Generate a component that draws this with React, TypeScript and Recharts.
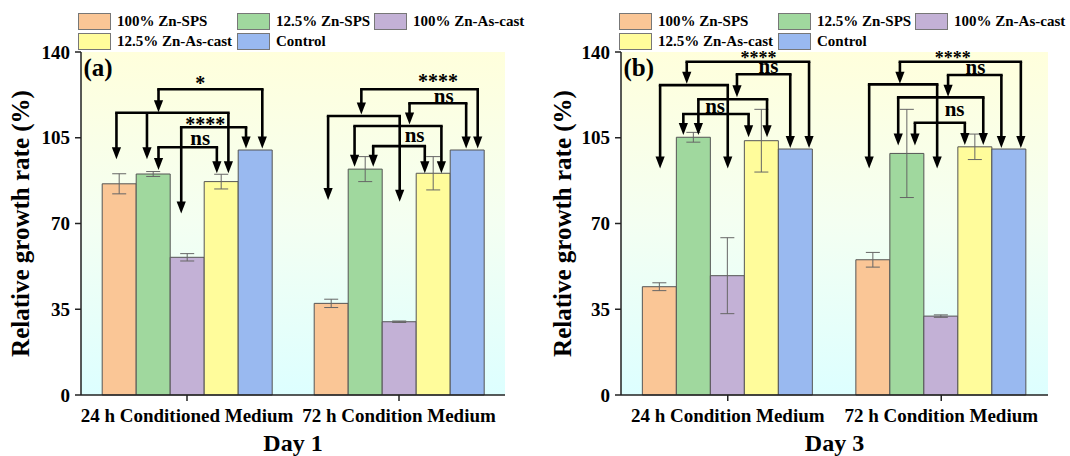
import React from "react";
import {
  BarChart,
  Bar,
  XAxis,
  YAxis,
  CartesianGrid,
  ErrorBar,
  Legend,
  ReferenceLine,
  ReferenceDot,
} from "recharts";

const FONT = '"Liberation Serif", "Times New Roman", serif';
const AX = "#222";

const seriesNames = ["100% Zn-SPS", "12.5% Zn-SPS", "100% Zn-As-cast", "12.5% Zn-As-cast", "Control"];
const seriesColors = ["#FAC696", "#A0D89E", "#C3B1D6", "#FFFC9B", "#99B9F0"];
const yTicks = [0, 35, 70, 105, 140];

// Day 1
const day1Categories = ["24 h Conditioned Medium", "72 h Condition Medium"];
const day1ZnSps100 = [86.2, 37.4];
const day1ZnSps125 = [90.2, 92.2];
const day1ZnCast100 = [56.2, 29.9];
const day1ZnCast125 = [87.1, 90.5];
const day1Control = [100, 100];
const day1ErrSps100 = [4.1, 1.7];
const day1ErrSps125 = [1.0, 5.1];
const day1ErrCast100 = [1.5, 0.3];
const day1ErrCast125 = [3.0, 6.8];

// Day 3
const day3Categories = ["24 h Condition Medium", "72 h Condition Medium"];
const day3ZnSps100 = [44.2, 55.2];
const day3ZnSps125 = [105.2, 98.6];
const day3ZnCast100 = [48.7, 32.2];
const day3ZnCast125 = [103.8, 101.3];
const day3Control = [100.4, 100.4];
const day3ErrSps100 = [1.6, 3.0];
const day3ErrSps125 = [2.0, 18.0];
const day3ErrCast100 = [15.5, 0.5];
const day3ErrCast125 = [12.8, 5.2];

// significance brackets: slot = position in bar widths from the group's left edge,
// level / tips / label centre in % units
type Bracket = {
  cat: number;
  level: number;
  ends: [number, number][];
  label?: string;
  labelAt?: [number, number];
};

const day1Brackets: Bracket[] = [
  { cat: 0, level: 124.8, ends: [[1.66, 115.4], [4.72, 100.6]], label: "*", labelAt: [2.89, 128.6] },
  { cat: 0, level: 115.2, ends: [[0.42, 96.2], [1.32, 96.2], [3.72, 90.5]] },
  { cat: 0, level: 109.3, ends: [[2.33, 74.1], [4.24, 100.6]], label: "****", labelAt: [3.04, 111.6] },
  { cat: 0, level: 101.1, ends: [[1.66, 91.8], [3.38, 90.5]], label: "ns", labelAt: [2.89, 104.1] },
  { cat: 1, level: 124.8, ends: [[1.39, 114.5], [4.82, 100.6]], label: "****", labelAt: [3.65, 129.1] },
  { cat: 1, level: 119.1, ends: [[2.81, 110.4], [4.48, 100.6]], label: "ns", labelAt: [3.82, 121.2] },
  { cat: 1, level: 113.9, ends: [[0.41, 79.6], [2.52, 78.9]] },
  { cat: 1, level: 109.8, ends: [[1.19, 93.2], [3.75, 90.5]] },
  { cat: 1, level: 101.6, ends: [[1.74, 93.2], [3.26, 90.5]], label: "ns", labelAt: [2.96, 105.4] },
];

const day3Brackets: Bracket[] = [
  { cat: 0, level: 136, ends: [[1.3, 127.0], [4.88, 100.8]], label: "****", labelAt: [3.4, 138.6] },
  { cat: 0, level: 126.5, ends: [[0.52, 92.5], [2.5, 92.5]] },
  { cat: 0, level: 130.9, ends: [[2.77, 121.5], [4.33, 100.8]], label: "ns", labelAt: [3.69, 133.3] },
  { cat: 0, level: 120.7, ends: [[1.64, 106.1], [3.65, 105.2]] },
  { cat: 0, level: 114.7, ends: [[1.2, 106.1], [3.11, 105.2]], label: "ns", labelAt: [2.13, 117.1] },
  { cat: 1, level: 136, ends: [[1.29, 127.0], [4.83, 100.8]], label: "****", labelAt: [2.84, 138.6] },
  { cat: 1, level: 126.8, ends: [[0.39, 92.5], [2.38, 92.5]] },
  { cat: 1, level: 130.6, ends: [[2.7, 121.7], [4.26, 100.8]], label: "ns", labelAt: [3.5, 133.0] },
  { cat: 1, level: 121.5, ends: [[1.24, 101.8], [3.73, 102.0]] },
  { cat: 1, level: 111.1, ends: [[1.73, 101.8], [3.19, 102.0]], label: "ns", labelAt: [2.89, 115.9] },
];

const slotX = (cat: number, p: number) => cat + 0.1 + 0.16 * p;

const hLine = (p: any) => (
  <line x1={p.x1} y1={p.y1} x2={p.x2} y2={p.y2} stroke="#000" strokeWidth={2.6} strokeLinecap="square" />
);

const arrow = (p: any) => {
  const top = Math.min(p.y1, p.y2);
  const tip = Math.max(p.y1, p.y2);
  const h = 12;
  const w = 4.6;
  const x = p.x1;
  return (
    <g>
      <line x1={x} y1={top} x2={x} y2={tip - h + 1} stroke="#000" strokeWidth={2.6} />
      <polygon points={`${x - w},${tip - h} ${x + w},${tip - h} ${x},${tip}`} fill="#000" />
    </g>
  );
};

function LegendBox() {
  const cols = [0, 159, 296];
  return (
    <div style={{ position: "relative", width: 470, height: 40, fontFamily: FONT, fontWeight: 700, fontSize: 15, color: "#000" }}>
      {seriesNames.map((n, i) => (
        <div
          key={n}
          style={{
            position: "absolute",
            left: cols[i % 3],
            top: 1 + Math.floor(i / 3) * 20,
            height: 17,
            display: "flex",
            alignItems: "center",
            whiteSpace: "nowrap",
          }}
        >
          <span
            style={{
              display: "inline-block",
              width: 31,
              height: 15,
              background: seriesColors[i],
              border: "1px solid #777",
              marginRight: 6,
            }}
          />
          <span>{n}</span>
        </div>
      ))}
    </div>
  );
}

interface PanelProps {
  gid: string;
  left: number;
  width: number;
  rightMargin: number;
  categories: string[];
  values: number[][];
  errors: number[][];
  brackets: Bracket[];
  tag: string;
  day: string;
  legendLeft: number;
  yLabelX: number;
  starSize: number;
}

function Panel(props: PanelProps) {
  const rows = props.categories.map((c, i) => {
    const r: any = { cat: c, pos: i + 0.5 };
    props.values.forEach((v, k) => {
      r[`s${k}`] = v[i];
    });
    props.errors.forEach((e, k) => {
      r[`e${k}`] = e[i];
    });
    return r;
  });

  const marks: React.ReactNode[] = [];
  props.brackets.forEach((b, bi) => {
    const xs = b.ends.map((e) => slotX(b.cat, e[0]));
    marks.push(
      <ReferenceLine
        key={`h${bi}`}
        xAxisId="n"
        segment={[
          { x: Math.min(...xs), y: b.level },
          { x: Math.max(...xs), y: b.level },
        ]}
        shape={hLine}
      />
    );
    b.ends.forEach((e, ei) => {
      marks.push(
        <ReferenceLine
          key={`a${bi}-${ei}`}
          xAxisId="n"
          segment={[
            { x: slotX(b.cat, e[0]), y: b.level },
            { x: slotX(b.cat, e[0]), y: e[1] },
          ]}
          shape={arrow}
        />
      );
    });
    if (b.label && b.labelAt) {
      const txt = b.label;
      const star = txt.includes("*");
      const fs = star ? props.starSize : 21;
      const off = star ? 0.48 * fs : 0.23 * fs;
      marks.push(
        <ReferenceDot
          key={`l${bi}`}
          xAxisId="n"
          x={slotX(b.cat, b.labelAt[0])}
          y={b.labelAt[1]}
          shape={(p: any) => (
            <text x={p.cx} y={p.cy + off} textAnchor="middle" fontFamily={FONT} fontWeight={700} fontSize={fs} fill="#000">
              {txt}
            </text>
          )}
        />
      );
    }
  });

  return (
    <div style={{ position: "absolute", left: props.left, top: 0 }}>
      <BarChart
        width={props.width}
        height={456}
        data={rows}
        margin={{ top: 12, right: props.rightMargin, left: 0, bottom: 0 }}
        barCategoryGap="10%"
        barGap={0}
      >
        <defs>
          <linearGradient id={props.gid} x1="0" y1="0" x2="0" y2="1">
            <stop offset="0%" stopColor="#FFFFDC" />
            <stop offset="50%" stopColor="#F4FFF2" />
            <stop offset="100%" stopColor="#DDFFFF" />
          </linearGradient>
        </defs>
        <CartesianGrid horizontal={false} vertical={false} fill={`url(#${props.gid})`} />
        <Legend verticalAlign="top" align="left" height={40} wrapperStyle={{ top: 12, left: props.legendLeft, width: 470, height: 40 }} content={() => <LegendBox />} />
        <XAxis
          dataKey="cat"
          interval={0}
          height={61}
          tickSize={6}
          tickMargin={8}
          axisLine={{ stroke: AX, strokeWidth: 1.5 }}
          tickLine={{ stroke: AX, strokeWidth: 1.5 }}
          tick={{ fontSize: 19, fontWeight: 700, fill: "#000", fontFamily: FONT }}
          label={{
            content: (p: any) => {
              const vb = p.viewBox || {};
              const cx = (vb.x ?? 81) + (vb.width ?? 425) / 2;
              const cy = (vb.y ?? 395) + 56;
              return (
                <text x={cx} y={cy} textAnchor="middle" fontFamily={FONT} fontWeight={700} fontSize={24} fill="#000">
                  {props.day}
                </text>
              );
            },
          }}
        />
        <XAxis xAxisId="n" dataKey="pos" type="number" domain={[0, 2]} allowDataOverflow hide />
        <XAxis
          xAxisId="top"
          dataKey="pos"
          type="number"
          orientation="top"
          domain={[0, 2]}
          allowDataOverflow
          height={0}
          tick={false}
          tickLine={false}
          axisLine={{ stroke: "#444", strokeWidth: 1.5 }}
        />
        <YAxis
          domain={[0, 140]}
          ticks={yTicks}
          width={81}
          tickSize={6}
          tickMargin={5}
          axisLine={{ stroke: AX, strokeWidth: 1.5 }}
          tickLine={{ stroke: AX, strokeWidth: 1.5 }}
          tick={{ fontSize: 19, fontWeight: 700, fill: "#000", fontFamily: FONT }}
          label={{
            content: (p: any) => {
              const vb = p.viewBox || {};
              const cx = (vb.x ?? 0) + props.yLabelX;
              const cy = (vb.y ?? 52) + (vb.height ?? 343) / 2;
              return (
                <text
                  x={cx}
                  y={cy}
                  transform={`rotate(-90 ${cx} ${cy})`}
                  textAnchor="middle"
                  fontFamily={FONT}
                  fontWeight={700}
                  fontSize={25}
                  fill="#000"
                >
                  Relative growth rate (%)
                </text>
              );
            },
          }}
        />
        <YAxis
          yAxisId="right"
          orientation="right"
          domain={[0, 140]}
          width={0}
          tick={false}
          tickLine={false}
          axisLine={{ stroke: "#444", strokeWidth: 1.5 }}
        />
        {seriesNames.map((n, k) => (
          <Bar
            key={n}
            dataKey={`s${k}`}
            name={n}
            fill={seriesColors[k]}
            stroke="#555"
            strokeWidth={1}
            isAnimationActive={false}
          >
            {k < 4 && <ErrorBar dataKey={`e${k}`} width={7} stroke="#666" strokeWidth={1} />}
          </Bar>
        ))}
        {marks}
        <ReferenceDot
          xAxisId="n"
          x={0}
          y={140}
          shape={(p: any) => (
            <text x={p.cx + 2.5} y={p.cy + 24} fontFamily={FONT} fontWeight={700} fontSize={25} fill="#000">
              {props.tag}
            </text>
          )}
        />
      </BarChart>
    </div>
  );
}

export default function App() {
  return (
    <div style={{ position: "relative", width: 1070, height: 456, background: "#fff", overflow: "hidden" }}>
      <style>{"body{margin:0}"}</style>
      <Panel
        gid="bgDay1"
        left={0}
        width={540}
        rightMargin={35}
        categories={day1Categories}
        values={[day1ZnSps100, day1ZnSps125, day1ZnCast100, day1ZnCast125, day1Control]}
        errors={[day1ErrSps100, day1ErrSps125, day1ErrCast100, day1ErrCast125]}
        brackets={day1Brackets}
        tag="(a)"
        day="Day 1"
        legendLeft={78}
        yLabelX={29}
        starSize={20}
      />
      <Panel
        gid="bgDay3"
        left={540}
        width={530}
        rightMargin={22}
        categories={day3Categories}
        values={[day3ZnSps100, day3ZnSps125, day3ZnCast100, day3ZnCast125, day3Control]}
        errors={[day3ErrSps100, day3ErrSps125, day3ErrCast100, day3ErrCast125]}
        brackets={day3Brackets}
        tag="(b)"
        day="Day 3"
        legendLeft={79}
        yLabelX={31}
        starSize={18}
      />
    </div>
  );
}
